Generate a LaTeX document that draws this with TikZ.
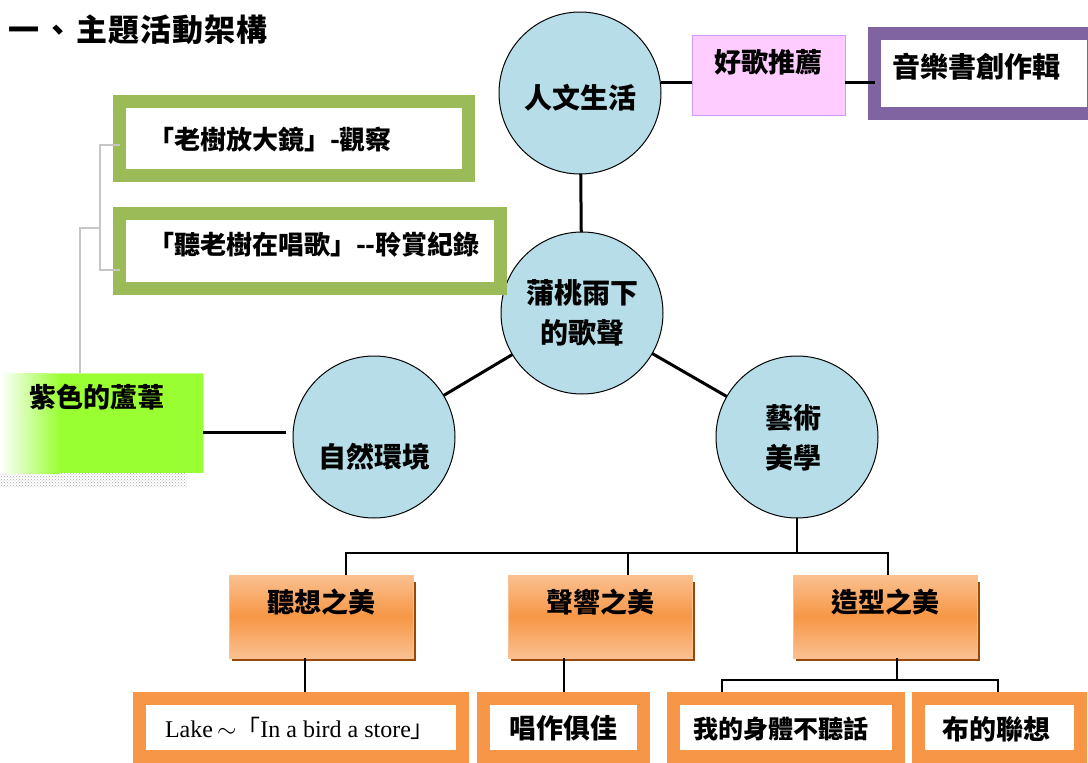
\documentclass[tikz,border=0pt]{standalone}
\usepackage{fontspec}
\newfontfamily\cjk{Noto Sans CJK TC}
\setmainfont{Liberation Serif}
\usetikzlibrary{patterns,calc}
\definecolor{cblue}{HTML}{B7DEE8}
\definecolor{ggreen}{HTML}{9BBB59}
\definecolor{ppurple}{HTML}{8064A2}
\definecolor{ppink}{HTML}{FFCCFF}
\definecolor{pborder}{HTML}{CC99FF}
\definecolor{oorange}{HTML}{F79646}
\definecolor{olight}{HTML}{FAC090}
\definecolor{obrown}{HTML}{984807}
\definecolor{lime}{HTML}{99FF33}
\begin{document}
\begin{tikzpicture}[x=1pt,y=-1pt,
  every node/.style={inner sep=0pt, outer sep=0pt},
  txt/.style={font=\cjk\bfseries\fontsize{27}{29}\selectfont, text=black},
  ctxt/.style={font=\cjk\bfseries\fontsize{28}{40}\selectfont, text=black, align=center},
  circ/.style={circle, draw=black, line width=1pt, fill=cblue, minimum size=162pt},
  thickbox/.style={rectangle, draw=#1, line width=13pt, fill=white},
  obox/.style={rectangle, draw=olight, line width=0.8pt, top color=olight, bottom color=olight, middle color=oorange, minimum width=184pt, minimum height=83pt},
  conn/.style={draw=black, line width=3pt},
  tree/.style={draw=black, line width=1.5pt},
  gtree/.style={draw=gray!45, line width=1.5pt}
]
\useasboundingbox (0,0) rectangle (1088,763);

% title
\node[anchor=west, font=\cjk\bfseries\fontsize{31}{33}\selectfont] (title) at (9,30) {一\hspace{3pt}、\hspace{3pt}主\hspace{1pt}題\hspace{1pt}活\hspace{1pt}動\hspace{1pt}架\hspace{1pt}構};

% circles
\node[circ] (life) at (580,93) {};
\node[ctxt] (lifet) at (580,98) {人文生活};
\node[circ] (core) at (582,313) {};
\node[ctxt] (coret) at (582,313) {蒲桃雨下\\的歌聲};
\node[circ] (nat) at (374,437) {};
\node[ctxt] (natt) at (374,457) {自然環境};
\node[circ] (art) at (797,437) {};
\node[ctxt] (artt) at (793,438) {藝術\\美學};

\draw[conn] (life) -- (core);
\draw[conn] (core) -- (nat);
\draw[conn] (core) -- (art);

% pink & purple
\node[rectangle, draw=pborder, line width=1pt, fill=ppink, minimum width=153pt, minimum height=80pt] (song) at (768.5,75) {};
\node[txt] (songt) at (768,62) {好歌推薦};
\node[thickbox=ppurple, minimum width=219pt, minimum height=80pt] (book) at (984,73.5) {};
\node[txt, anchor=west, font=\cjk\bfseries\fontsize{28}{30}\selectfont] (bookt) at (892,67) {音樂書創作輯};
\draw[conn] (life.east |- 0,82) -- (song.west |- 0,82);
\draw[conn] (song.east |- 0,82) -- (book.west |- 0,82);

% green boxes
\node[thickbox=ggreen, minimum width=349pt, minimum height=74pt] (g1) at (294,138.5) {};
\node[txt, anchor=west, font=\cjk\bfseries\fontsize{26}{28}\selectfont] (g1t) at (148,140) {「老樹放大鏡」-觀察};
\node[thickbox=ggreen, minimum width=381pt, minimum height=75pt] (g2) at (310,251) {};
\node[txt, anchor=west, font=\cjk\bfseries\fontsize{26}{28}\selectfont] (g2t) at (148,245) {「聽老樹在唱歌」--聆賞紀錄};

% lime box
\fill[pattern=crosshatch dots, pattern color=gray!70] (0,473) rectangle (187,487);
\shade[left color=white, right color=lime] (0,373) rectangle (60,473);
\node[rectangle, fill=lime, minimum width=143pt, minimum height=100pt, anchor=north west] (reed) at (60,373) {};
\draw[lime!60, line width=0.8pt] (30,373) -- (203,373) -- (203,473);
\node[txt, anchor=west] (reedt) at (30,397) {紫色的蘆葦};
\draw[conn] (reed.east |- 0,432) -- (286,432);

% gray tree
\coordinate (gj) at (80,228);
\draw[gtree] (reed.north west -| gj) -- (gj) -- (100,228);
\draw[gtree] (120,145) -- (100,145) -- (100,270) -- (g2.west |- 0,270);

% orange 3d boxes
\foreach \n/\x in {o1/321, o2/600, o3/885}{
  \fill[obrown] (\x-89,582) rectangle (\x+95,661);
}
\node[obox] (o1) at (321,616.5) {};
\node[obox] (o2) at (600,616.5) {};
\node[obox] (o3) at (885,616.5) {};
\node[txt] (o1t) at (321,602) {聽想之美};
\node[txt] (o2t) at (600,602) {聲響之美};
\node[txt] (o3t) at (885,602) {造型之美};

\coordinate (hub) at (797,553);
\draw[tree] (art.south) -- (hub);
\draw[tree] (346,575) -- (346,553) -- (888,553) -- (888,575);
\draw[tree] (628,553) -- (628,575);

% bottom boxes
\node[thickbox=oorange, minimum width=323pt, minimum height=58pt] (b1) at (301,727.5) {};
\node[font=\fontsize{24}{26}\selectfont] (b1t) at (300,728) {Lake\,$\sim${\cjk 「}In a bird a store{\cjk 」}};
\node[thickbox=oorange, minimum width=160pt, minimum height=58pt] (b2) at (563.5,727.5) {};
\node[txt] (b2t) at (563.5,728) {唱作俱佳};
\node[thickbox=oorange, minimum width=225pt, minimum height=58pt] (b3) at (786,727.5) {};
\node[txt, font=\cjk\bfseries\fontsize{25}{27}\selectfont] (b3t) at (781,729) {我的身體不聽話};
\node[thickbox=oorange, minimum width=162pt, minimum height=58pt] (b4) at (999.5,727.5) {};
\node[txt] (b4t) at (996,729) {布的聯想};

\draw[tree] (305,658) -- (305,692);
\draw[tree] (564,658) -- (564,692);
\draw[tree] (897,658) -- (897,680);
\draw[tree] (722,692) -- (722,680) -- (998,680) -- (998,692);
\end{tikzpicture}
\end{document}
